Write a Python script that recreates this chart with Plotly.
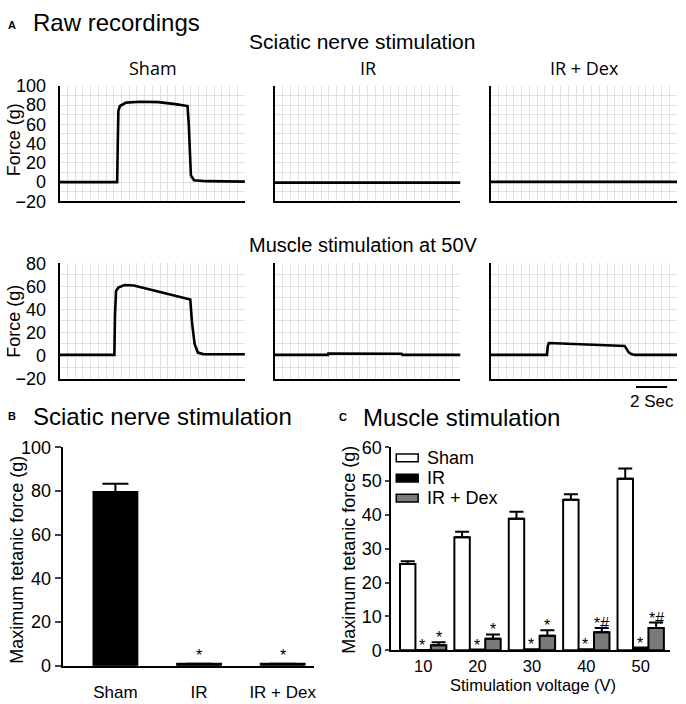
import plotly.graph_objects as go

W, H = 686, 704

# ---- A: raw force recordings (time in s, force in g)
nerve_sham_t = [0, 3.72, 3.76, 3.8, 3.9, 4.3, 5.2, 6.4, 7.5, 8.28, 8.36, 8.45, 8.5, 8.7, 9.5, 12]
nerve_sham_f = [0, 0, 40, 74, 79, 82.5, 83.5, 83, 81, 79, 60, 15, 7, 2, 1, 0.5]
nerve_ir_t = [0, 12]
nerve_ir_f = [-0.5, -0.5]
nerve_dex_t = [0, 12]
nerve_dex_f = [0.3, 0.3]

muscle_sham_t = [0, 3.54, 3.58, 3.65, 3.8, 4.2, 4.8, 5.8, 6.9, 8.46, 8.56, 8.74, 8.95, 9.3, 12]
muscle_sham_f = [0.5, 0.5, 35, 56, 59, 61.2, 60.7, 57.3, 53.6, 48.6, 30, 10, 2.5, 1.2, 1]
muscle_ir_t = [0, 3.44, 3.46, 8.2, 8.25, 12]
muscle_ir_f = [0.5, 0.5, 1.7, 1.5, 0.5, 0.5]
muscle_dex_t = [0, 3.63, 3.68, 3.75, 8.63, 8.75, 8.9, 9.1, 9.3, 12]
muscle_dex_f = [0.5, 0.5, 8, 10.8, 8.3, 6, 2.5, 1, 0.5, 0.5]

raw_groups = ["Sham", "IR", "IR + Dex"]
scale_bar_sec = 2

# ---- B: sciatic nerve stimulation
groups_b = ["Sham", "IR", "IR + Dex"]
nerve_force = [79.5, 1.0, 1.0]
nerve_err = [3.8, None, None]
nerve_marks = ["", "*", "*"]

# ---- C: muscle stimulation
voltages = ["10", "20", "30", "40", "50"]
sham_force = [25.5, 33.4, 38.9, 44.5, 50.7]
sham_err = [0.8, 1.6, 2.0, 1.6, 3.0]
ir_force = [0.05, 0.2, 0.3, 0.3, 0.8]
dex_force = [1.5, 3.4, 4.3, 5.3, 6.6]
dex_err = [0.9, 1.3, 1.6, 1.3, 1.6]
ir_marks = ["*", "*", "*", "*", "*"]
dex_marks = ["*", "*", "*", "*#", "*#"]

series_names = ["Sham", "IR", "IR + Dex"]
series_colors = ["white", "black", "#7a7a7a"]

FONT = "Liberation Sans"
GRID = "#e0e0e0"


def px_x(x):
    return x / W


def px_y(y):
    return 1 - y / H


def text(x, y, s, size, xanchor="center", bold=False, family=FONT, angle=0):
    return dict(
        x=px_x(x), y=px_y(y), xref="paper", yref="paper",
        text=f"<b>{s}</b>" if bold else s, showarrow=False, xanchor=xanchor, yanchor="middle",
        textangle=angle, font=dict(family=family, size=size, color="black"),
    )


raw_x_domains = [[60, 246], [276, 462.5], [492.7, 680]]
raw_rows = [
    dict(y=[78, 197], yrange=[-20, 100], traces=[(nerve_sham_t, nerve_sham_f), (nerve_ir_t, nerve_ir_f), (nerve_dex_t, nerve_dex_f)]),
    dict(y=[260.7, 379.3], yrange=[-20, 80], traces=[(muscle_sham_t, muscle_sham_f), (muscle_ir_t, muscle_ir_f), (muscle_dex_t, muscle_dex_f)]),
]

fig = go.Figure()
layout = dict(
    width=W, height=H, margin=dict(l=0, r=0, t=0, b=0),
    paper_bgcolor="white", plot_bgcolor="white", showlegend=False,
    barmode="group", bargap=0.148, bargroupgap=0,
)

n = 0
for r, row in enumerate(raw_rows):
    for c, (t, f) in enumerate(row["traces"]):
        n += 1
        fig.add_trace(go.Scatter(x=t, y=f, mode="lines", line=dict(color="black", width=2.6),
                                 xaxis=f"x{n}", yaxis=f"y{n}", hoverinfo="skip"))
        xd = raw_x_domains[c]
        layout[f"xaxis{n}"] = dict(
            domain=[px_x(xd[0]), px_x(xd[1])], anchor=f"y{n}", range=[0, 12],
            showline=True, linecolor="black", linewidth=2, showgrid=True, gridcolor=GRID, gridwidth=1,
            dtick=0.5, tick0=0, showticklabels=False, ticks="", zeroline=False,
        )
        layout[f"yaxis{n}"] = dict(
            domain=[px_y(row["y"][1]), px_y(row["y"][0])], anchor=f"x{n}", range=row["yrange"],
            showline=True, linecolor="black", linewidth=2, showgrid=True, gridcolor=GRID, gridwidth=1,
            dtick=20, tick0=-20, minor=dict(dtick=10, showgrid=True, gridcolor=GRID, gridwidth=1),
            showticklabels=(c == 0), ticks="", ticklabelstandoff=8, zeroline=False,
            tickfont=dict(family=FONT, size=18, color="black"),
        )

# ---- B bars
fig.add_trace(go.Bar(
    x=groups_b, y=nerve_force, width=0.524, xaxis="x7", yaxis="y7",
    marker=dict(color=["black", "black", "#7a7a7a"], line=dict(color="black", width=2)),
    error_y=dict(type="data", array=nerve_err, arrayminus=[0, 0, 0], symmetric=False,
                 color="black", thickness=2, width=13),
))
layout["xaxis7"] = dict(
    domain=[px_x(63), px_x(315)], anchor="y7", type="category", range=[-0.63, 2.37],
    showline=True, linecolor="black", linewidth=2, ticks="", showgrid=False,
    tickfont=dict(family=FONT, size=17, color="black"), ticklabelstandoff=10,
)
layout["yaxis7"] = dict(
    domain=[px_y(675), px_y(450)], anchor="x7", range=[0, 100], dtick=20,
    showline=True, linecolor="black", linewidth=2, ticks="outside", ticklen=6, tickwidth=2,
    showgrid=False, zeroline=False, tickfont=dict(family=FONT, size=18, color="black"),
)

# ---- C bars
for name, vals, errs, col in [
    ("Sham", sham_force, sham_err, series_colors[0]),
    ("IR", ir_force, None, series_colors[1]),
    ("IR + Dex", dex_force, dex_err, series_colors[2]),
]:
    err = dict(type="data", array=errs, arrayminus=[0] * len(errs), symmetric=False,
               color="black", thickness=2, width=7) if errs else None
    fig.add_trace(go.Bar(x=voltages, y=vals, name=name, xaxis="x8", yaxis="y8",
                         marker=dict(color=col, line=dict(color="black", width=2)), error_y=err))
layout["xaxis8"] = dict(
    domain=[px_x(393), px_x(673)], anchor="y8", type="category", range=[-0.586, 4.54],
    showline=True, linecolor="black", linewidth=2, ticks="", showgrid=False,
    tickfont=dict(family=FONT, size=16.5, color="black"), ticklabelstandoff=0,
)
layout["yaxis8"] = dict(
    domain=[px_y(659), px_y(450)], anchor="x8", range=[0, 60], dtick=10,
    showline=True, linecolor="black", linewidth=2, ticks="outside", ticklen=4, tickwidth=2,
    showgrid=False, zeroline=False, tickfont=dict(family=FONT, size=18, color="black"),
)

ann = [
    text(6, 15, "A", 11, xanchor="left", bold=True),
    text(31, 13, "Raw recordings", 24, xanchor="left"),
    text(364, 32, "Sciatic nerve stimulation", 21),
    text(365, 242, "Muscle stimulation at 50V", 20),
    text(14, 133, "Force (g)", 18, angle=-90),
    text(14, 320, "Force (g)", 18, angle=-90),
    text(6, 418, "B", 11, xanchor="left", bold=True),
    text(31, 418, "Sciatic nerve stimulation", 24, xanchor="left"),
    text(338, 419, "C", 11, xanchor="left", bold=True),
    text(363, 419, "Muscle stimulation", 24, xanchor="left"),
    text(17, 566, "Maximum tetanic force (g)", 18, angle=-90),
    text(351, 555, "Maximum tetanic force (g)", 18, angle=-90),
    text(535, 694.5, "Stimulation voltage (V)", 16.5),
]
for c, name in enumerate(raw_groups):
    xd = raw_x_domains[c]
    ann.append(text((xd[0] + xd[1]) / 2 + 0.5, 60, name, 18, family="Open Sans"))

# scale bar under the last muscle panel
ann.append(dict(x=10.36, y=px_y(403), xref="x6", yref="paper", text=f"{scale_bar_sec} Sec",
                showarrow=False, font=dict(family=FONT, size=17, color="black")))
shapes = [dict(type="line", xref="x6", yref="paper", x0=9.36, x1=9.36 + scale_bar_sec,
               y0=px_y(388), y1=px_y(388), line=dict(color="black", width=2))]

# significance marks
star_font = dict(family=FONT, size=16, color="black")
for g, m in zip(groups_b, nerve_marks):
    if m:
        v = nerve_force[groups_b.index(g)]
        ann.append(dict(x=g, y=v, xref="x7", yref="y7", text=m, showarrow=False, yanchor="bottom",
                        yshift=-2, font=star_font))
for i, v in enumerate(voltages):
    # short clipped box so the mark's box stays above the axis (glyph sits high in the em box)
    ann.append(dict(x=i, y=ir_force[i], xref="x8", yref="y8", text=ir_marks[i], showarrow=False,
                    yanchor="bottom", valign="top", height=11, borderpad=0, xshift=-1, yshift=1,
                    font=star_font))
    ann.append(dict(x=i + 0.284, y=dex_force[i] + dex_err[i], xref="x8", yref="y8", text=dex_marks[i],
                    showarrow=False, yanchor="bottom", yshift=-6, font=star_font))

# legend for C
for i, (name, col) in enumerate(zip(series_names, series_colors)):
    yc = 461 + 20.7 * i
    shapes.append(dict(type="rect", xref="paper", yref="paper", x0=px_x(398), x1=px_x(420),
                       y0=px_y(yc + 4), y1=px_y(yc - 4), fillcolor=col, line=dict(color="black", width=1.5)))
    ann.append(text(427, yc, name, 18, xanchor="left"))

layout["annotations"] = ann
layout["shapes"] = shapes
fig.update_layout(**layout)
# the page body has a default 8px margin; drop it so the figure fills the window exactly
page_css = ("document.documentElement.style.margin='0px';document.body.style.margin='0px';"
            "document.documentElement.style.overflow='hidden';document.body.style.overflow='hidden';")
fig.write_html("out.html", post_script=page_css, config={"displayModeBar": False})
